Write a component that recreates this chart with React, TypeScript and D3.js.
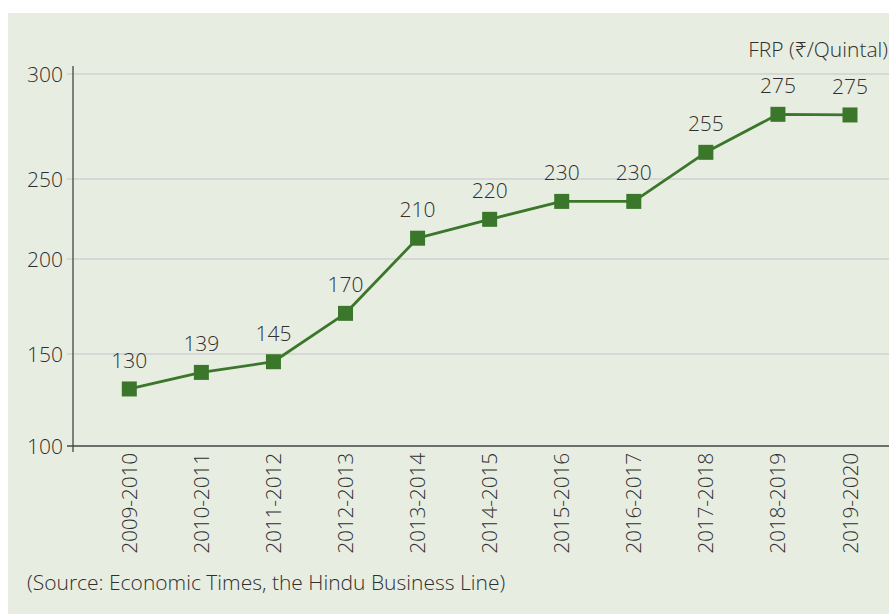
import React from "react";
import * as d3 from "d3";

const seasons = [
  "2009-2010", "2010-2011", "2011-2012", "2012-2013", "2013-2014", "2014-2015",
  "2015-2016", "2016-2017", "2017-2018", "2018-2019", "2019-2020",
];
const plotted = [131, 140, 145.8, 171.4, 213, 224.8, 236, 236, 262.7, 280.8, 280.5];
const pointLabels = ["130", "139", "145", "170", "210", "220", "230", "230", "255", "275", "275"];
const yTicks = [100, 150, 200, 250, 300];
const unitLabel = "FRP (₹/Quintal)";
const sourceText = "(Source: Economic Times, the Hindu Business Line)";

const W = 889;
const H = 614;
const FONT = "'Open Sans', 'Noto Sans', sans-serif";
const TXT = "#2f2f2f";
const GREEN = "#3a772a";

export default function App() {
  const x = d3.scalePoint<string>().domain(seasons).range([129.3, 850]);
  // the source graphic's gridlines are unevenly spaced; a polylinear scale reproduces them
  const y = d3.scaleLinear().domain(yTicks).range([446, 354, 259, 179, 74]);
  const axisX = 73;
  const line = d3
    .line<number>()
    .x((_, i) => x(seasons[i]) as number)
    .y((d) => y(d));
  const sq = 15;

  return (
    <svg
      width={W}
      height={H}
      style={{ position: "absolute", left: 0, top: 0, display: "block" }}
      fontFamily={FONT}
      fontWeight={340}
    >
      <rect x={0} y={0} width={W} height={H} fill="#ffffff" />
      <rect x={8} y={13} width={W - 8} height={H - 13} fill="#e8ede2" />

      {yTicks.slice(1).map((t) => (
        <line key={t} x1={67} x2={W} y1={y(t)} y2={y(t)} stroke="#cfd1d0" strokeWidth={1.3} />
      ))}
      {yTicks.map((t) => (
        <text
          key={"l" + t}
          x={63}
          y={y(t)}
          dy="0.36em"
          textAnchor="end"
          fontSize={21}
          fill={TXT}
        >
          {t}
        </text>
      ))}

      <line x1={axisX} x2={axisX} y1={66} y2={452} stroke="#444" strokeWidth={1.3} />
      <line x1={67} x2={W} y1={y(100)} y2={y(100)} stroke="#444" strokeWidth={1.3} />

      <text x={888} y={57} textAnchor="end" fontSize={21} fill={TXT}>
        {unitLabel}
      </text>

      <path d={line(plotted) || ""} fill="none" stroke={GREEN} strokeWidth={2.8} strokeLinejoin="round" />
      {plotted.map((v, i) => (
        <rect
          key={"p" + i}
          x={(x(seasons[i]) as number) - sq / 2}
          y={y(v) - sq / 2}
          width={sq}
          height={sq}
          fill={GREEN}
        />
      ))}
      {plotted.map((v, i) => (
        <text
          key={"t" + i}
          x={x(seasons[i]) as number}
          y={y(v) - 21}
          textAnchor="middle"
          fontSize={21}
          fill={TXT}
        >
          {pointLabels[i]}
        </text>
      ))}

      {seasons.map((s) => (
        <text
          key={"s" + s}
          transform={`translate(${(x(s) as number) + 7.5},453) rotate(-90)`}
          textAnchor="end"
          fontSize={21}
          fill={TXT}
          letterSpacing={-0.2}
        >
          {s}
        </text>
      ))}

      <text x={27} y={590} fontSize={21} fill={TXT}>
        {sourceText}
      </text>
    </svg>
  );
}
